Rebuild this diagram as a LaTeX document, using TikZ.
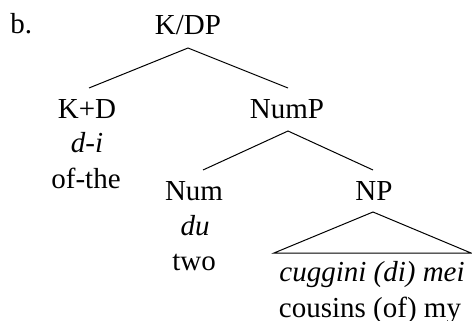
\documentclass[tikz,border=0pt]{standalone}
\usepackage{fontspec}
\setmainfont{Liberation Serif}
\begin{document}
\begin{tikzpicture}[x=0.5pt,y=-0.5pt,
  lab/.style={anchor=base,inner sep=0pt,font=\fontsize{14.5}{17}\selectfont},
  edge/.style={line width=0.5pt}]
\useasboundingbox (0,0) rectangle (472,321);
\node[lab,anchor=base west] (ex) at (10,33) {b.};
\node[lab] (kdp) at (188,34) {K/DP};
\node[lab] (kd) at (87,118) {K+D};
\node[lab] (kdi) at (87,152) {\textit{d-i}};
\node[lab] (kdg) at (86,188) {of-the};
\node[lab] (nump) at (287,118) {NumP};
\node[lab] (num) at (194,200) {Num};
\node[lab] (numi) at (195,235) {\textit{du}};
\node[lab] (numg) at (194,270) {two};
\node[lab] (np) at (374,200) {NP};
\node[lab] (npi) at (372,281) {\textit{cuggini (di) mei}};
\node[lab] (npg) at (370,317) {cousins (of) my};
\draw[edge] ([xshift=1pt,yshift=15pt]kd.base) -- ([yshift=-7pt]kdp.base) -- ([xshift=0.5pt,yshift=15pt]nump.base);
\draw[edge] ([xshift=4.5pt,yshift=15pt]num.base) -- ([xshift=0.5pt,yshift=-6.5pt]nump.base) -- ([xshift=-0.5pt,yshift=15pt]np.base);
\draw[edge] ([xshift=-0.5pt,yshift=-6pt]np.base) -- ([xshift=-49pt,yshift=14pt]npi.base) -- ([xshift=49.5pt,yshift=14pt]npi.base) -- cycle;
\end{tikzpicture}
\end{document}
